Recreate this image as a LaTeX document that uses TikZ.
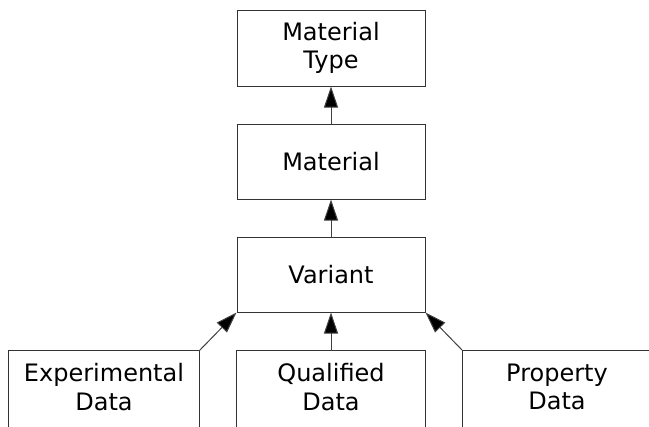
\documentclass[tikz,border=0pt]{standalone}
\usepackage{fontspec}
\setmainfont{DejaVu Sans}
\usetikzlibrary{arrows.meta}
\tikzset{
  boxtext/.style={font=\fontsize{24bp}{28.4bp}\selectfont, align=center, inner sep=0pt, minimum width=188bp, text=black},
  box/.style={boxtext, draw=black!80, line width=1bp},
  openbox/.style={boxtext, draw=none, minimum height=72bp},
  edgeline/.style={draw=black!80, line width=1bp},
  arr/.style={draw=black!75, line width=1bp, -{Triangle[length=21bp,width=14bp,fill=black]}},
}
\begin{document}
\begin{tikzpicture}[x=1bp,y=-1bp]
\useasboundingbox (0,0) rectangle (649,426);
\clip (0,0) rectangle (649,426);

\node[box, minimum height=76bp] (mt) at (331,48) {Material\\Type};
\node[box, minimum height=75bp] (mat) at (331,161.5) {Material};
\node[box, minimum height=75bp] (var) at (331,274.5) {Variant};

\node[openbox, minimum width=190bp] (ed) at (104,387) {Experimental\\Data};
\node[openbox] (qd) at (331,387) {Qualified\\Data};
\node[openbox] (pd) at (557,387) {Property\\Data};

\foreach \n in {ed,qd,pd}{
  \draw[edgeline] ([yshift=-150bp]\n.north west) -- (\n.north west) -- (\n.north east) -- ([yshift=-150bp]\n.north east);
}

\draw[arr] (ed.north east) -- (var.south west);
\draw[arr] (qd.north) -- (var.south);
\draw[arr] (pd.north west) -- (var.south east);
\draw[arr] (var.north) -- (mat.south);
\draw[arr] (mat.north) -- (mt.south);
\end{tikzpicture}
\end{document}
